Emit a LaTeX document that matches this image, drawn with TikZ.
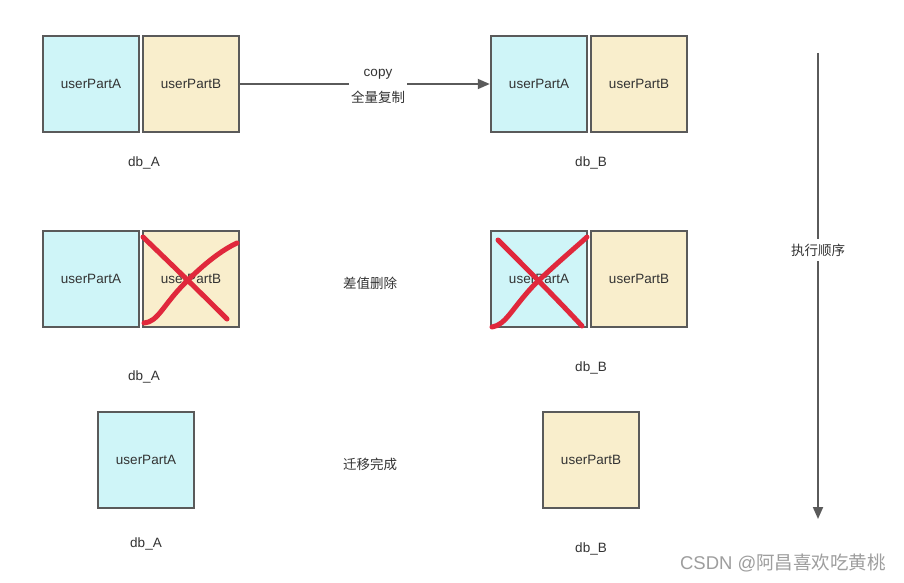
\documentclass[tikz,border=0pt]{standalone}
\usepackage{fontspec}
\setmainfont{Liberation Sans}
\newfontfamily\cjk{Noto Sans CJK SC}
\usetikzlibrary{arrows.meta}
\definecolor{cyanfill}{HTML}{CFF5F8}
\definecolor{beigefill}{HTML}{F9EECC}
\definecolor{edge}{HTML}{5A5A5A}
\definecolor{txt}{HTML}{333333}
\definecolor{crossred}{HTML}{E0283C}
\definecolor{wm}{HTML}{9E9E9E}
\begin{document}
\begin{tikzpicture}[x=1pt,y=-1pt,
 part/.style={draw=edge,line width=2pt,minimum size=96.5pt,inner sep=0pt,font=\fontsize{13.5}{16}\selectfont,text=txt},
 pa/.style={part,fill=cyanfill},
 pb/.style={part,fill=beigefill},
 lbl/.style={font=\fontsize{13.5}{16}\selectfont,text=txt},
 midlbl/.style={lbl,fill=white,inner sep=2pt,align=center},
 conn/.style={draw=edge,line width=1.8pt,-{Triangle[length=12pt,width=10pt]}},
 crossline/.style={draw=crossred,line width=5pt,line cap=round,line join=round}]
\useasboundingbox[fill=white] (0,0) rectangle (904,583);
% row 1
\node[pa] (a1A) at (91,84) {userPartA};
\node[pb] (a1B) at (191,84) {userPartB};
\node[pa] (b1A) at (539,84) {userPartA};
\node[pb] (b1B) at (639,84) {userPartB};
\node[lbl] (da1) at (144,163) {db\_A};
\node[lbl] (db1) at (591,163) {db\_B};
% row 2
\node[pa] (a2A) at (91,279) {userPartA};
\node[pb] (a2B) at (191,279) {userPartB};
\node[pa] (b2A) at (539,279) {userPartA};
\node[pb] (b2B) at (639,279) {userPartB};
\node[lbl] (da2) at (144,377) {db\_A};
\node[lbl] (db2) at (591,368) {db\_B};
% row 3
\node[pa] (a3A) at (146,460) {userPartA};
\node[pb] (b3B) at (591,460) {userPartB};
\node[lbl] (da3) at (146,544) {db\_A};
\node[lbl] (db3) at (591,549) {db\_B};
% copy arrow
\draw[conn] (a1B.east) -- (b1A.west);
\node[midlbl] (copylbl) at (378,86.5) {copy\\[10pt]{\cjk 全量复制}};
% middle labels
\node[lbl] (diff) at (370,283) {\cjk 差值删除};
\node[lbl] (done) at (370,464) {\cjk 迁移完成};
% order arrow
\coordinate (ordS) at (818,53);
\coordinate (ordE) at (818,519);
\draw[conn] (ordS) -- (ordE);
\node[midlbl,inner ysep=5pt] (ordlbl) at (818,250) {\cjk 执行顺序};
% red crosses
\draw[crossline] (143,237) .. controls (170,263) and (200,292) .. (227,319);
\draw[crossline] (144,323) .. controls (158,322) and (163,305) .. (185,283) .. controls (205,263) and (222,250) .. (237,243);
\draw[crossline] (498,240) .. controls (525,267) and (555,297) .. (582,326);
\draw[crossline] (492,327) .. controls (506,325) and (512,308) .. (535,284) .. controls (558,262) and (575,248) .. (587,237);
% watermark
\node[font=\fontsize{18.5}{22}\selectfont,text=wm] (wmark) at (783,563) {CSDN @{\cjk 阿昌喜欢吃黄桃}};
\end{tikzpicture}
\end{document}
